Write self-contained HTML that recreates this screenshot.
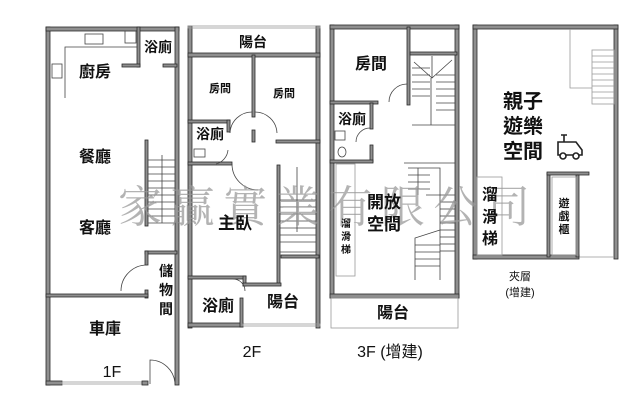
<!DOCTYPE html>
<html><head><meta charset="utf-8"><style>
html,body{margin:0;padding:0;background:#fff;width:640px;height:412px;overflow:hidden}
svg{display:block}
.w{fill:#8f8f8f;stroke:#2a2a2a;stroke-width:0.8}
.t{font-family:"Liberation Sans","Noto Sans CJK TC",sans-serif;fill:#111;text-anchor:middle;font-weight:bold}
.l{stroke:#444;stroke-width:0.8;fill:none}
.g{stroke:#999;stroke-width:0.8;fill:none}
</style></head><body>
<svg width="640" height="412" viewBox="0 0 640 412" xmlns="http://www.w3.org/2000/svg">
<!-- ========== 1F ========== -->
<rect class="w" x="46" y="27" width="4" height="358"/>
<rect class="w" x="46" y="27" width="133" height="4"/>
<rect class="w" x="175" y="27" width="4" height="358"/>
<rect class="w" x="46" y="381" width="16" height="4"/>
<rect class="g" x="62" y="382" width="80" height="2"/>
<rect class="w" x="142" y="381" width="6" height="4"/>
<rect class="w" x="137" y="27" width="3" height="40"/>
<rect class="w" x="122" y="64" width="18" height="3"/>
<rect class="w" x="163" y="64" width="14" height="3"/>
<rect class="l" x="125" y="31" width="11" height="12"/>
<polyline class="l" points="65,98 65,47 137,47"/>
<rect class="l" x="85" y="34" width="18" height="10"/>
<rect class="l" x="52" y="64" width="10" height="14"/>
<rect class="w" x="145" y="140" width="3" height="86"/>
<g class="l">
<line x1="148" y1="160" x2="175" y2="160"/><line x1="148" y1="167" x2="175" y2="167"/><line x1="148" y1="174" x2="175" y2="174"/><line x1="148" y1="181" x2="175" y2="181"/><line x1="148" y1="188" x2="175" y2="188"/><line x1="148" y1="195" x2="175" y2="195"/><line x1="148" y1="202" x2="175" y2="202"/><line x1="148" y1="209" x2="175" y2="209"/><line x1="148" y1="216" x2="175" y2="216"/><line x1="148" y1="223" x2="175" y2="223"/>
<line x1="162" y1="155" x2="162" y2="223"/>
</g>
<rect class="w" x="145" y="251" width="32" height="3"/>
<rect class="w" x="145" y="251" width="3" height="14"/>
<rect class="w" x="145" y="290" width="3" height="8"/>
<path class="l" d="M147,265 A26,26 0 0 0 121,291"/>
<rect class="w" x="46" y="294" width="102" height="3"/>
<path class="l" d="M150,384 L150,360 A25,25 0 0 1 175,384"/>
<!-- ========== 2F ========== -->
<rect class="w" x="188" y="26" width="4" height="302"/>
<rect class="w" x="316" y="26" width="4" height="302"/>
<rect class="g" x="188" y="26" width="132" height="2"/>
<rect class="w" x="188" y="53" width="132" height="4"/>
<rect class="w" x="252" y="55" width="3" height="62"/>
<rect class="w" x="252" y="130" width="3" height="12"/>
<rect class="w" x="276" y="140" width="44" height="3"/>
<rect class="w" x="188" y="120" width="42" height="3"/>
<rect class="w" x="227" y="120" width="3" height="12"/>
<rect class="w" x="188" y="162" width="44" height="3"/>
<path class="l" d="M230,133 A22,22 0 0 1 252,112"/>
<path class="l" d="M255,112 A22,22 0 0 1 277,133"/>
<path class="l" d="M228,150 A16,16 0 0 1 216,164"/>
<path class="l" d="M232,164 A26,26 0 0 0 258,190"/>
<rect class="l" x="194" y="149" width="11" height="8"/>
<rect class="w" x="277" y="165" width="3" height="120"/>
<g class="l">
<line x1="280" y1="200" x2="316" y2="200"/><line x1="280" y1="207" x2="316" y2="207"/><line x1="280" y1="214" x2="316" y2="214"/><line x1="280" y1="221" x2="316" y2="221"/><line x1="280" y1="228" x2="316" y2="228"/><line x1="280" y1="235" x2="316" y2="235"/><line x1="280" y1="242" x2="316" y2="242"/>
<line x1="297" y1="167" x2="297" y2="232"/><line x1="280" y1="252" x2="316" y2="252"/>
</g>
<rect class="w" x="281" y="255" width="38" height="3"/>
<rect class="w" x="188" y="276" width="58" height="3"/>
<rect class="w" x="243" y="276" width="3" height="10"/>
<rect class="w" x="243" y="283" width="38" height="3"/>
<rect class="w" x="188" y="323" width="55" height="4"/>
<rect class="w" x="240" y="298" width="3" height="29"/>
<rect class="g" x="243" y="324" width="77" height="2"/>
<path class="l" d="M233,279 A12,12 0 0 1 245,291"/>
<!-- ========== 3F ========== -->
<rect class="w" x="330" y="25" width="4" height="273"/>
<rect class="w" x="455" y="25" width="4" height="273"/>
<rect class="w" x="330" y="25" width="129" height="4"/>
<rect class="w" x="330" y="294" width="129" height="4"/>
<rect class="g" x="331" y="298" width="127" height="30"/>
<rect class="w" x="407" y="27" width="3" height="78"/>
<rect class="w" x="330" y="101" width="48" height="3"/>
<rect class="w" x="410" y="52" width="47" height="3"/>
<path class="l" d="M407,84 A18,18 0 0 0 389,102"/>
<g class="l">
<line x1="412" y1="68" x2="430" y2="68"/><line x1="412" y1="75" x2="430" y2="75"/><line x1="412" y1="82" x2="430" y2="82"/><line x1="412" y1="89" x2="430" y2="89"/><line x1="412" y1="96" x2="430" y2="96"/>
<line x1="436" y1="75" x2="455" y2="75"/><line x1="436" y1="82" x2="455" y2="82"/><line x1="436" y1="89" x2="455" y2="89"/><line x1="436" y1="96" x2="455" y2="96"/><line x1="436" y1="103" x2="455" y2="103"/><line x1="436" y1="110" x2="455" y2="110"/>
<path d="M414,62 L432,78 L452,60 M432,56 L432,78"/>
<line x1="431" y1="78" x2="431" y2="125"/><line x1="412" y1="125" x2="455" y2="125"/>
</g>
<rect class="w" x="370" y="103" width="3" height="26"/>
<rect class="w" x="370" y="145" width="3" height="17"/>
<rect class="w" x="330" y="160" width="43" height="3"/>
<path class="l" d="M370,128 A14,14 0 0 0 356,142"/>
<rect class="l" x="335" y="131" width="10" height="9"/>
<ellipse class="l" cx="342" cy="152" rx="4" ry="5"/>
<rect class="g" x="336" y="164" width="19" height="112"/>
<g class="l">
<polyline points="404,163 455,163"/>
<polyline points="408,168 440,168 440,280"/>
<line x1="418" y1="168" x2="418" y2="195"/><line x1="408" y1="175" x2="430" y2="175"/><line x1="408" y1="182" x2="430" y2="182"/><line x1="408" y1="189" x2="430" y2="189"/>
<line x1="426" y1="195" x2="455" y2="195"/><line x1="440" y1="202" x2="455" y2="202"/><line x1="440" y1="209" x2="455" y2="209"/><line x1="440" y1="216" x2="455" y2="216"/><line x1="440" y1="223" x2="455" y2="223"/><line x1="440" y1="230" x2="455" y2="230"/><line x1="440" y1="237" x2="455" y2="237"/><line x1="440" y1="244" x2="455" y2="244"/><line x1="440" y1="251" x2="455" y2="251"/>
<polyline points="415,280 415,238 440,230"/>
<line x1="415" y1="245" x2="440" y2="245"/><line x1="415" y1="252" x2="440" y2="252"/><line x1="415" y1="259" x2="440" y2="259"/><line x1="415" y1="266" x2="440" y2="266"/>
</g>
<!-- ========== Mezzanine ========== -->
<rect class="w" x="473" y="25" width="4" height="234"/>
<rect class="w" x="614" y="25" width="4" height="234"/>
<rect class="w" x="473" y="25" width="145" height="4"/>
<rect class="w" x="473" y="255" width="106" height="4"/>
<line class="g" x1="579" y1="257" x2="614" y2="257"/>
<rect class="g" x="477" y="177" width="25" height="78"/>
<rect class="w" x="547" y="173" width="3" height="84"/>
<rect class="w" x="547" y="172" width="42" height="3"/>
<rect class="w" x="576" y="175" width="3" height="82"/>
<rect class="g" x="552" y="177" width="24" height="78"/>
<g class="g">
<polyline points="570,29 570,88 592,88"/>
<rect x="592" y="50" width="22" height="54"/>
<line x1="592" y1="56" x2="614" y2="56"/><line x1="592" y1="62" x2="614" y2="62"/><line x1="592" y1="68" x2="614" y2="68"/><line x1="592" y1="74" x2="614" y2="74"/><line x1="592" y1="80" x2="614" y2="80"/><line x1="592" y1="86" x2="614" y2="86"/><line x1="592" y1="92" x2="614" y2="92"/><line x1="592" y1="98" x2="614" y2="98"/>
</g>
<g fill="none" stroke="#222" stroke-width="1.6">
<path d="M561,135 L567,135 M564,135 L564,142 M558,142 L576,142 L582,150 L582,155 L558,155 Z"/>
<circle cx="563" cy="156" r="3" fill="#fff"/><circle cx="576" cy="156" r="3" fill="#fff"/>
</g>
<text x="118" y="222" font-size="44" fill="#9a9a9a" fill-opacity="0.75" textLength="412" lengthAdjust="spacing" style="font-family:'Liberation Serif','Noto Serif CJK SC',serif">家贏實業有限公司</text>
<g class="t">
<text x="95" y="77" font-size="16">廚房</text>
<text x="158" y="52" font-size="14">浴廁</text>
<text x="95" y="162" font-size="16">餐廳</text>
<text x="95" y="233" font-size="16">客廳</text>
<text x="166" y="276" font-size="14">儲</text>
<text x="166" y="295" font-size="14">物</text>
<text x="166" y="314" font-size="14">間</text>
<text x="105" y="334" font-size="16">車庫</text>
<text x="112" y="377" font-size="16" font-weight="normal">1F</text>
<text x="253" y="47" font-size="14">陽台</text>
<text x="220" y="92" font-size="11">房間</text>
<text x="284" y="97" font-size="11">房間</text>
<text x="210" y="139" font-size="14">浴廁</text>
<text x="235" y="229" font-size="17">主臥</text>
<text x="218" y="311" font-size="16">浴廁</text>
<text x="283" y="307" font-size="16">陽台</text>
<text x="252" y="357" font-size="16" font-weight="normal">2F</text>
<text x="371" y="69" font-size="16">房間</text>
<text x="352" y="124" font-size="14">浴廁</text>
<text x="384" y="208" font-size="17">開放</text>
<text x="384" y="230" font-size="17">空間</text>
<text x="346" y="227" font-size="10">溜</text>
<text x="346" y="240" font-size="10">滑</text>
<text x="346" y="253" font-size="10">梯</text>
<text x="393" y="318" font-size="16">陽台</text>
<text x="390" y="357" font-size="16" font-weight="normal">3F (增建)</text>
<text x="523" y="108" font-size="20">親子</text>
<text x="523" y="133" font-size="20">遊樂</text>
<text x="523" y="158" font-size="20">空間</text>
<text x="490" y="200" font-size="16">溜</text>
<text x="490" y="222" font-size="16">滑</text>
<text x="490" y="244" font-size="16">梯</text>
<text x="564" y="207" font-size="11">遊</text>
<text x="564" y="220" font-size="11">戲</text>
<text x="564" y="233" font-size="11">櫃</text>
<text x="520" y="280" font-size="11" font-weight="normal">夾層</text>
<text x="520" y="296" font-size="11" font-weight="normal">(增建)</text>
</g>
</svg>
</body></html>
